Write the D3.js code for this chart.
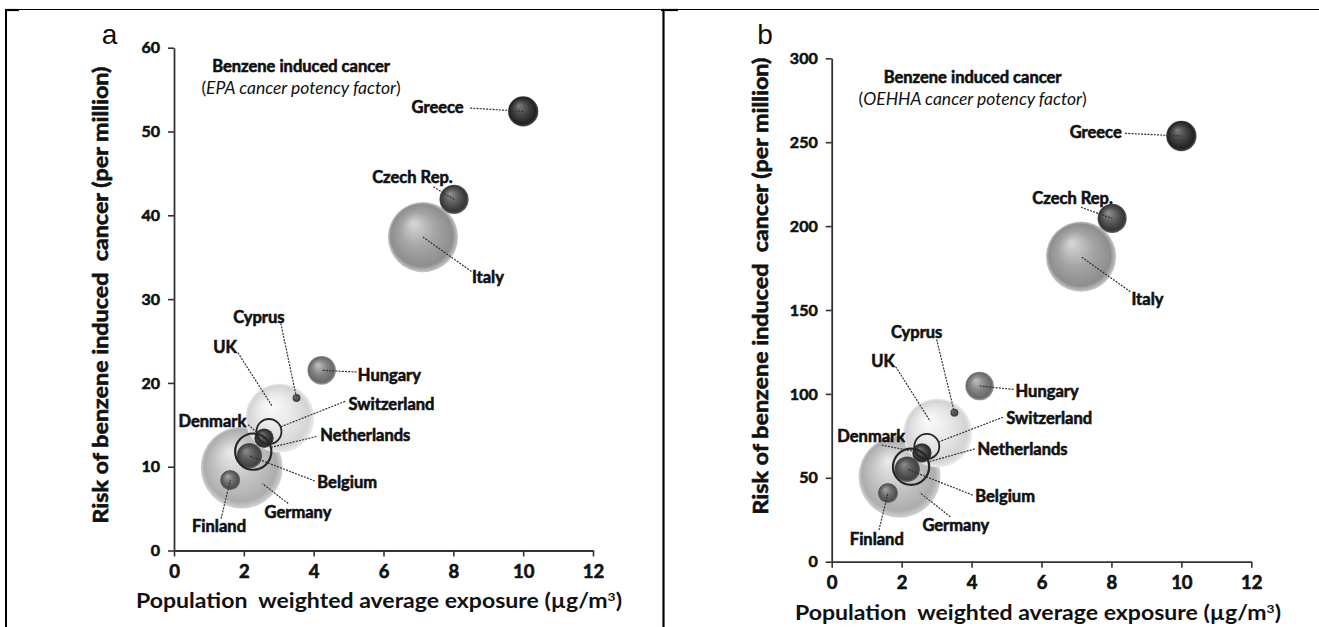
<!DOCTYPE html>
<html>
<head>
<meta charset="utf-8">
<script src="https://cdn.jsdelivr.net/npm/d3@7"></script>
<style>
  html, body { margin: 0; padding: 0; background: #fff; }
  svg { display: block; }
  text { font-family: Lato, "Open Sans", "Liberation Sans", sans-serif; fill: #111; }
  .heavy { stroke: #111; stroke-width: 0.6px; }
</style>
</head>
<body>
<svg id="chart" width="1319" height="627"></svg>
<script>
// ---------- data ----------
const countries   = ["Greece", "Czech Rep.", "Italy", "Hungary", "Cyprus", "UK",
                     "Switzerland", "Denmark", "Netherlands", "Belgium", "Germany", "Finland"];
// population weighted average exposure (µg/m3)
const exposure    = [10.0, 8.02, 7.13, 4.23, 3.51, 3.03, 2.72, 2.58, 2.27, 2.16, 1.94, 1.61];
// risk of benzene induced cancer (per million), EPA potency factor
const riskEPA     = [52.4, 41.9, 37.4, 21.5, 18.2, 15.8, 14.2, 13.4, 11.8, 11.3, 9.9, 8.4];
// risk of benzene induced cancer (per million), OEHHA potency factor
const riskOEHHA   = [253.7, 204.6, 181.8, 104.7, 88.8, 76.7, 68.7, 64.8, 56.6, 55.1, 50.7, 40.9];
// bubble size: population (millions)
const population  = [11.2, 10.4, 60, 10, 0.8, 58, 7.6, 4.6, 16, 8, 82, 5];

const xTicks  = [0, 2, 4, 6, 8, 10, 12];
const yTicksA = [0, 10, 20, 30, 40, 50, 60];
const yTicksB = [0, 50, 100, 150, 200, 250, 300];

// ---------- styling ----------
// sphere shading: [highlight, body, edge, bottom rim]
const tones = {
  "Greece":      ["#7c7c7c", "#424242", "#222222", "#505050"],
  "Czech Rep.":  ["#949494", "#5a5a5a", "#353535", "#666666"],
  "Italy":       ["#d8d8d8", "#a4a4a4", "#8e8e8e", "#c8c8c8"],
  "Hungary":     ["#c2c2c2", "#858585", "#686868", "#a0a0a0"],
  "Cyprus":      ["#8a8a8a", "#555555", "#3a3a3a", "#666666"],
  "UK":          ["#fcfcfc", "#e8e8e8", "#d4d4d4", "#ececec"],
  "Denmark":     ["#7a7a7a", "#474747", "#2a2a2a", "#555555"],
  "Belgium":     ["#8c8c8c", "#5c5c5c", "#424242", "#6a6a6a"],
  "Germany":     ["#ebebeb", "#c6c6c6", "#adadad", "#d2d2d2"],
  "Finland":     ["#a6a6a6", "#6e6e6e", "#4e4e4e", "#808080"]
};
// drawn as open rings instead of shaded spheres
const rings = { "Switzerland": 1.8, "Netherlands": 2.2 };

// label placement in data units: text centre, leader start, and how far short of the centre the leader stops
const labelsA = {
  "Greece":      { t: [7.55, 52.9], s: [8.48, 52.8] },
  "Czech Rep.":  { t: [6.83, 44.5], s: [7.43, 43.4] },
  "Italy":       { t: [8.99, 32.6], s: [8.52, 33.3] },
  "Cyprus":      { t: [2.43, 27.8], s: [3.06, 27.1] },
  "UK":          { t: [1.46, 24.3], s: [1.83, 23.6], inset: 14 },
  "Hungary":     { t: [6.17, 20.9], s: [5.23, 21.3] },
  "Switzerland": { t: [6.23, 17.5], s: [4.90, 17.8], inset: "r" },
  "Denmark":     { t: [1.10, 15.4], s: [2.12, 15.0] },
  "Netherlands": { t: [5.48, 13.7], s: [4.08, 13.6], inset: "r" },
  "Belgium":     { t: [4.96, 8.14], s: [4.03, 8.3] },
  "Germany":     { t: [3.55, 4.56], s: [3.27, 5.6], inset: 26 },
  "Finland":     { t: [1.29, 2.92], s: [1.35, 3.8] }
};
const labelsB = {
  "Greece":      { t: [7.55, 255.9], s: [8.39, 255.3] },
  "Czech Rep.":  { t: [6.89, 216.6], s: [7.13, 211.2] },
  "Italy":       { t: [9.03, 156.6], s: [8.54, 160.9] },
  "Cyprus":      { t: [2.43, 136.5], s: [3.00, 132.5] },
  "UK":          { t: [1.47, 119.6], s: [1.83, 116.2], inset: 14 },
  "Hungary":     { t: [6.16, 101.7], s: [5.20, 102.7] },
  "Switzerland": { t: [6.22, 85.5],  s: [4.90, 86.1], inset: "r" },
  "Denmark":     { t: [1.13, 74.9],  s: [1.43, 69.5] },
  "Netherlands": { t: [5.46, 67.2],  s: [4.09, 67.2], inset: "r" },
  "Belgium":     { t: [4.96, 39.3],  s: [4.03, 39.7] },
  "Germany":     { t: [3.55, 21.9],  s: [3.39, 26.8], inset: 26 },
  "Finland":     { t: [1.29, 13.5],  s: [1.35, 18.9] }
};

const panels = [
  { letter: "a", letterPos: [109.5, 43.5], risk: riskEPA, yTicks: yTicksA, yMax: 60,
    xRange: [174, 593], yRange: [550.5, 47.7], factor: "EPA cancer potency factor",
    note: [3.64, 57.8], labels: labelsA, xTitle: [379, 608], yTitle: [108, 295] },
  { letter: "b", letterPos: [765, 43.5], risk: riskOEHHA, yTicks: yTicksB, yMax: 300,
    xRange: [831.7, 1251.3], yRange: [561.7, 58.3], factor: "OEHHA cancer potency factor",
    note: [4.03, 289], labels: labelsB, xTitle: [1038, 619.5], yTitle: [768, 286] }
];

const svg = d3.select("#chart");
const defs = svg.append("defs");

// soft edge for the spheres
defs.append("filter").attr("id", "soft")
  .attr("x", "-10%").attr("y", "-10%").attr("width", "120%").attr("height", "120%")
  .append("feGaussianBlur").attr("stdDeviation", 0.7);

Object.entries(tones).forEach(([name, c], i) => {
  const g = defs.append("radialGradient").attr("id", "sph" + i)
    .attr("cx", "50%").attr("cy", "50%").attr("r", "50%")
    .attr("fx", "36%").attr("fy", "30%");
  g.append("stop").attr("offset", "0%").attr("stop-color", c[0]);
  g.append("stop").attr("offset", "50%").attr("stop-color", c[1]);
  g.append("stop").attr("offset", "88%").attr("stop-color", c[2]);
  g.append("stop").attr("offset", "100%").attr("stop-color", c[3]);
  tones[name].id = "sph" + i;
});

// ---------- frame ----------
const frame = svg.append("g").attr("stroke", "#000").attr("fill", "none");
frame.append("line").attr("x1", 5).attr("x2", 1319).attr("y1", 9.5).attr("y2", 9.5).attr("stroke-width", 1.2);
frame.append("line").attr("x1", 6).attr("x2", 6).attr("y1", 9).attr("y2", 627).attr("stroke-width", 2);
frame.append("line").attr("x1", 663.5).attr("x2", 663.5).attr("y1", 9).attr("y2", 627).attr("stroke-width", 2.2);
frame.append("line").attr("x1", 5).attr("x2", 19).attr("y1", 10).attr("y2", 10).attr("stroke-width", 2.2);
frame.append("line").attr("x1", 661).attr("x2", 678).attr("y1", 10).attr("y2", 10).attr("stroke-width", 2.2);

// bubble radius from population, shared by both panels
const r = d3.scaleSqrt().domain([0, 82]).range([0, 41]);

panels.forEach(p => {
  const x = d3.scaleLinear().domain([0, 12]).range(p.xRange);
  const y = d3.scaleLinear().domain([0, p.yMax]).range(p.yRange);
  const g = svg.append("g");

  // panel letter
  g.append("text").attr("x", p.letterPos[0]).attr("y", p.letterPos[1])
    .attr("text-anchor", "middle")
    .style("font-family", "'Liberation Sans', Arial, sans-serif")
    .style("font-size", "28px").text(p.letter);

  // axes
  const yAxis = g.append("g").attr("transform", `translate(${p.xRange[0]},0)`)
    .call(d3.axisLeft(y).tickValues(p.yTicks).tickSize(6).tickPadding(8).tickSizeOuter(0));
  const xAxis = g.append("g").attr("transform", `translate(0,${p.yRange[0]})`)
    .call(d3.axisBottom(x).tickValues(xTicks).tickSize(6).tickPadding(8).tickSizeOuter(0));
  [yAxis, xAxis].forEach(a => {
    a.select(".domain").attr("stroke", "#333").attr("stroke-width", 1.8);
    a.selectAll(".tick line").attr("stroke", "#333").attr("stroke-width", 1.6);
    a.selectAll(".tick text").attr("fill", "#111").classed("heavy", true)
      .style("font-family", "Lato, sans-serif").style("font-weight", "bold");
  });
  yAxis.selectAll(".tick text").style("font-size", "16px");
  xAxis.selectAll(".tick text").style("font-size", "18.5px");

  // axis titles
  g.append("text").attr("x", p.xTitle[0]).attr("y", p.xTitle[1])
    .attr("text-anchor", "middle").style("white-space", "pre")
    .style("font-size", "20px").style("font-weight", "bold").attr("fill", "#151515")
    .attr("textLength", 486).attr("lengthAdjust", "spacingAndGlyphs")
    .call(t => {
      t.append("tspan").text("Population  weighted average exposure (µg/m");
      t.append("tspan").attr("dy", -7).style("font-size", "12px").text("3");
      t.append("tspan").attr("dy", 7).text(")");
    });

  g.append("text").classed("heavy", true)
    .attr("transform", `translate(${p.yTitle[0]},${p.yTitle[1]}) rotate(-90)`)
    .attr("text-anchor", "middle").style("white-space", "pre")
    .style("font-size", "21px").style("font-weight", "bold")
    .attr("textLength", 457).attr("lengthAdjust", "spacingAndGlyphs")
    .text("Risk of benzene induced  cancer (per million)");

  // in-plot note
  const nt = g.append("g").attr("text-anchor", "middle");
  nt.append("text").attr("x", x(p.note[0])).attr("y", y(p.note[1])).attr("dy", "0.35em")
    .classed("heavy", true).style("font-size", "16.5px")
    .style("font-weight", "bold").text("Benzene induced cancer");
  const l2 = nt.append("text").attr("x", x(p.note[0])).attr("y", y(p.note[1]) + 22)
    .attr("dy", "0.35em").style("font-size", "17.5px");
  l2.append("tspan").text("(");
  l2.append("tspan").style("font-style", "italic").text(p.factor);
  l2.append("tspan").text(")");

  // bubbles: largest first, open rings on top
  const rows = countries.map((c, i) => ({
    name: c, cx: x(exposure[i]), cy: y(p.risk[i]), rad: r(population[i]), pop: population[i]
  }));
  const order = rows.slice().sort((a, b) => {
    const ra = rings[a.name] ? 1 : 0, rb = rings[b.name] ? 1 : 0;
    return ra - rb || b.pop - a.pop;
  });

  g.append("g").selectAll("circle").data(order.filter(d => !rings[d.name])).join("circle")
    .attr("cx", d => d.cx).attr("cy", d => d.cy).attr("r", d => d.rad)
    .attr("fill", d => `url(#${tones[d.name].id})`)
    .attr("filter", "url(#soft)");

  g.append("g").selectAll("circle").data(order.filter(d => rings[d.name])).join("circle")
    .attr("cx", d => d.cx).attr("cy", d => d.cy).attr("r", d => d.rad)
    .attr("fill", "none").attr("stroke", "#262626")
    .attr("stroke-width", d => rings[d.name]);

  // leader lines
  const leaders = g.append("g").attr("stroke", "#333").attr("stroke-width", 1.2)
    .attr("stroke-dasharray", "2,1.2").attr("fill", "none");
  rows.forEach(d => {
    const L = p.labels[d.name];
    const sx = x(L.s[0]), sy = y(L.s[1]);
    const inset = L.inset === "r" ? d.rad : (L.inset || 0);
    const dx = sx - d.cx, dy = sy - d.cy, len = Math.hypot(dx, dy);
    const ex = d.cx + dx / len * inset, ey = d.cy + dy / len * inset;
    leaders.append("line").attr("x1", sx).attr("y1", sy).attr("x2", ex).attr("y2", ey);
  });

  // country labels
  g.append("g").attr("text-anchor", "middle")
    .style("font-size", "16.5px").style("font-weight", "bold")
    .selectAll("text").data(rows).join("text")
    .classed("heavy", true)
    .attr("x", d => x(p.labels[d.name].t[0]))
    .attr("y", d => y(p.labels[d.name].t[1]))
    .attr("dy", "0.35em")
    .text(d => d.name);
});
</script>
</body>
</html>
